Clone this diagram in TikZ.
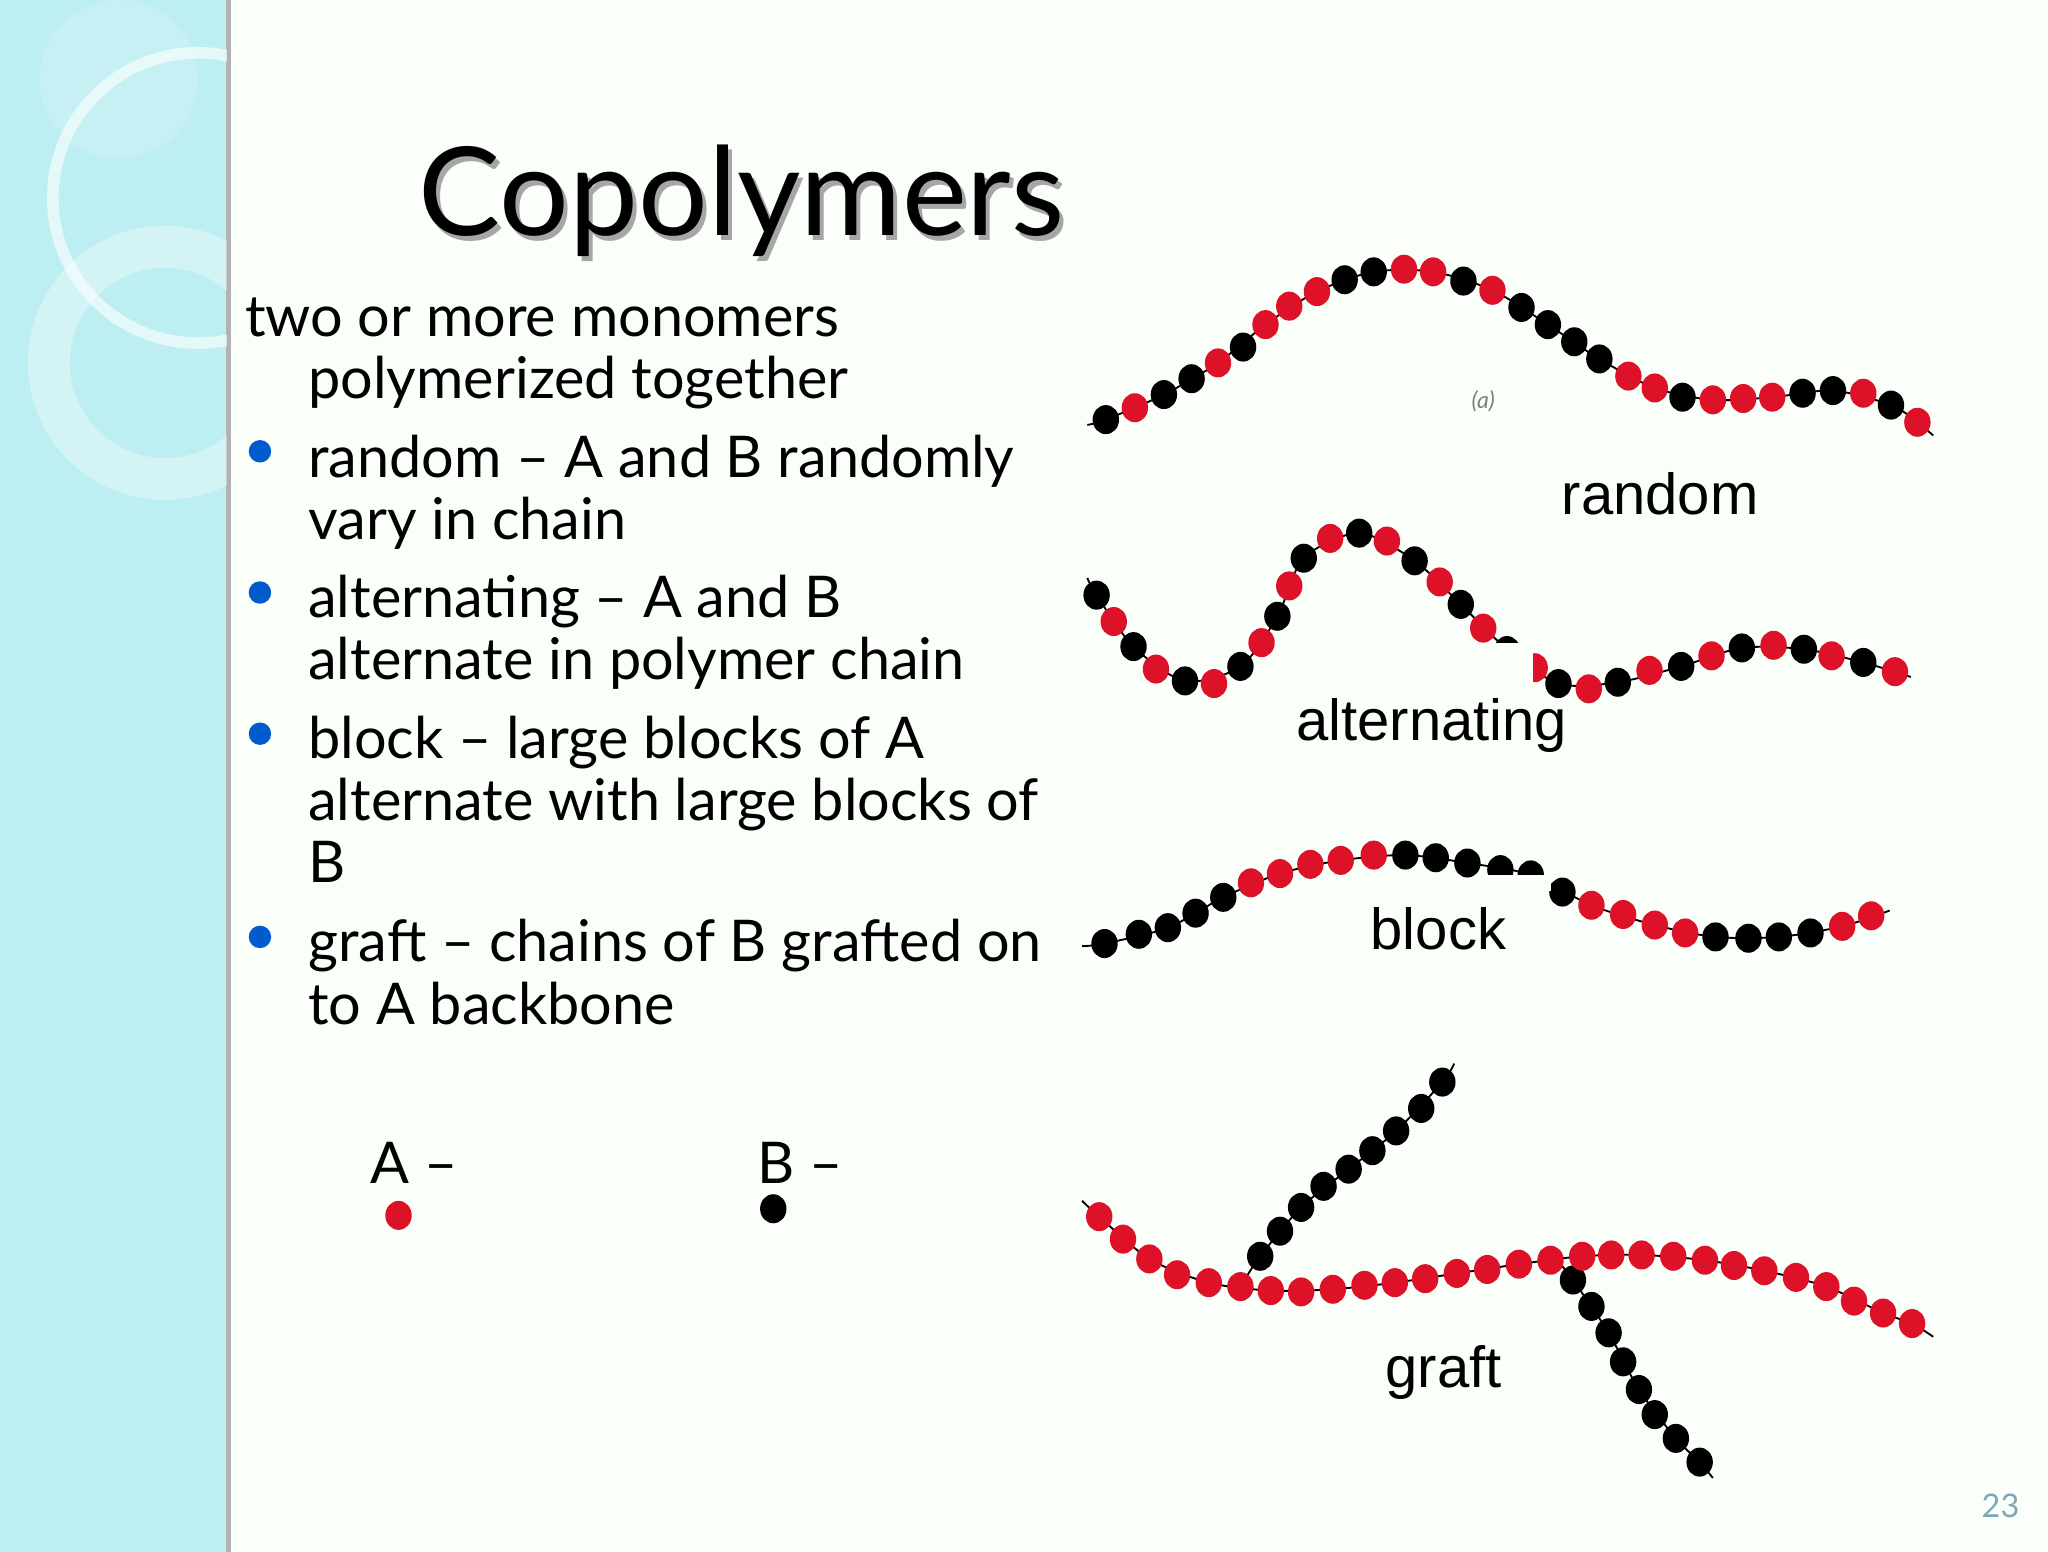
\documentclass[tikz,border=0pt]{standalone}
\usepackage{fontspec}
\setmainfont{Lato}
\newfontfamily\arialf{Liberation Sans}
\definecolor{bred}{HTML}{DD1128}
\definecolor{bandc}{HTML}{BDEEF1}
\definecolor{numc}{HTML}{7FA7B8}
\tikzset{body/.style={anchor=base west,inner sep=0,font=\fontsize{12.4pt}{14pt}\selectfont},
 lab/.style={font=\arialf\fontsize{12.5pt}{14pt}\selectfont,inner sep=0},
 bul/.style={circle,fill=blue!55!cyan!80!black,minimum size=0.17cm,inner sep=0}}
\newcommand{\beads}[1]{%
 \foreach \x/\y/\c in {#1}{\fill[\c] (\x,\y) ellipse [x radius=10,y radius=11];}}
\begin{document}
\begin{tikzpicture}[x=0.01cm,y=-0.01cm]
\useasboundingbox (0,0) rectangle (1552,1176);
\fill[white!98!green] (0,0) rectangle (1552,1176);
\fill[bandc] (0,0) rectangle (172,1176);
\draw[gray!60,line width=1.2pt] (173,0) -- (173,1176);
\begin{scope}
\clip (0,0) rectangle (172,1176);
\draw[white,opacity=0.6,line width=2.5pt] (150,150) circle (110);
\draw[white,opacity=0.35,line width=9pt] (125,275) circle (88);
\fill[white,opacity=0.15] (90,60) circle (60);
\end{scope}
% title
\node[font=\fontsize{26.5pt}{30pt}\selectfont,gray!70,inner sep=0] at (565,156) {Copolymers};
\node[font=\fontsize{26.5pt}{30pt}\selectfont,inner sep=0] (title) at (562,152) {Copolymers};
% body
\node[body] (t1) at (185,255) {two or more monomers};
\node[body] at (233,302) {polymerized together};
\node[bul] at (197,342) {};
\node[body] at (233,362) {random -- A and B randomly};
\node[body] at (233,409) {vary in chain};
\node[bul] at (197,449) {};
\node[body] at (233,468) {alternating -- A and B};
\node[body] at (233,515) {alternate in polymer chain};
\node[bul] at (197,556) {};
\node[body] at (233,575) {block -- large blocks of A};
\node[body] at (233,622) {alternate with large blocks of};
\node[body] at (233,669) {B};
\node[bul] at (197,710) {};
\node[body] at (233,729) {graft -- chains of B grafted on};
\node[body] at (233,776) {to A backbone};
\node[body] (la) at (280,897) {A --};
\node[body] (lb) at (573,897) {B --};
\fill[bred] (302,921) ellipse [x radius=10,y radius=11];
\fill[black] (586,916) ellipse [x radius=10,y radius=11];
% random
\draw[thin] plot[smooth] coordinates {(824,322)(838,318)(882,299)(923,275)(959,246)(998,221)(1041,206)(1086,206)(1131,220)(1173,246)(1212,272)(1254,294)(1298,303)(1343,301)(1389,296)(1433,307)(1453,320)(1465,330)};
\beads{838/318/black,860/309/bred,882/299/black,903/287/black,923/275/bred,942/263/black,959/246/bred,977/232/bred,998/221/bred,1019/212/black,1041/206/black,1064/204/bred,1086/206/bred,1109/213/black,1131/220/bred,1153/233/black,1173/246/black,1193/259/black,1212/272/black,1234/285/bred,1254/294/bred,1275/301/black,1298/303/bred,1321/302/bred,1343/301/bred,1366/298/black,1389/296/black,1412/298/bred,1433/307/black,1453/320/bred}
\node[font=\itshape\fontsize{5pt}{6pt}\selectfont,gray] at (1124,304) {(a)};
\node[lab] (lr) at (1258,374) {random};
% alternating
\draw[thin] plot[smooth] coordinates {(824,438)(831,451)(859,490)(898,516)(940,505)(968,467)(988,423)(1030,404)(1072,425)(1107,458)(1140,490)(1181,518)(1226,517)(1274,505)(1320,491)(1367,492)(1412,502)(1448,513)};
\beads{831/451/black,844/471/bred,859/490/black,876/507/bred,898/516/black,920/518/bred,940/505/black,956/487/bred,968/467/black,977/444/bred,988/423/black,1008/408/bred,1030/404/black,1051/410/bred,1072/425/black,1091/441/bred,1107/458/black,1124/476/bred,1142/493/black,1163/506/bred,1181/518/black,1204/522/bred,1226/517/black,1250/508/bred,1274/505/black,1297/497/bred,1320/491/black,1344/489/bred,1367/492/black,1388/497/bred,1412/502/black,1436/509/bred}
\fill[white!98!green] (1130,487) rectangle (1162,540);
\node[lab] (lalt) at (1085,550) {alternating};
% block
\draw[thin] plot[smooth] coordinates {(820,717)(837,715)(885,703)(927,680)(970,662)(1016,652)(1065,648)(1112,654)(1160,663)(1206,686)(1254,701)(1300,710)(1348,710)(1396,702)(1432,690)};
\beads{837/715/black,863/708/black,885/703/black,906/692/black,927/680/black,948/669/bred,970/662/bred,993/655/bred,1016/652/bred,1041/648/bred,1065/648/black,1088/650/black,1112/654/black,1137/659/black,1160/663/black,1184/676/black,1206/686/bred,1230/693/bred,1254/701/bred,1277/707/bred,1300/710/black,1325/711/black,1348/710/black,1372/707/black,1396/702/bred,1418/694/bred}
\fill[white!98!green] (1125,663) rectangle (1175,675);
\node[lab] (lbl) at (1090,704) {block};
% graft
\draw[thin] plot[smooth] coordinates {(940,975)(955,952)(986,915)(1022,886)(1058,857)(1093,820)(1102,806)};
\draw[thin] plot[smooth] coordinates {(1180,955)(1192,970)(1219,1010)(1242,1053)(1270,1090)(1288,1108)(1298,1120)};
\draw[thin] plot[smooth] coordinates {(820,910)(833,922)(871,954)(916,972)(963,978)(1010,977)(1057,972)(1104,965)(1151,958)(1199,952)(1244,951)(1292,955)(1337,963)(1384,975)(1427,995)(1449,1003)(1465,1013)};
\beads{955/952/black,970/933/black,986/915/black,1003/899/black,1022/886/black,1040/872/black,1058/857/black,1077/840/black,1093/820/black}
\beads{1192/970/black,1206/990/black,1219/1010/black,1230/1032/black,1242/1053/black,1254/1072/black,1270/1090/black,1288/1108/black}
\beads{833/922/bred,851/939/bred,871/954/bred,892/966/bred,916/972/bred,940/975/bred,963/978/bred,986/979/bred,1010/977/bred,1034/974/bred,1057/972/bred,1080/969/bred,1104/965/bred,1127/962/bred,1151/958/bred,1175/955/bred,1199/952/bred,1221/951/bred,1244/951/bred,1268/952/bred,1292/955/bred,1314/959/bred,1337/963/bred,1361/968/bred,1384/975/bred,1405/986/bred,1427/995/bred,1449/1003/bred}
\node[lab] (lg) at (1094,1040) {graft};
\node[font=\fontsize{7pt}{8pt}\selectfont,numc,inner sep=0] (pn) at (1516,1141) {23};
\end{tikzpicture}
\end{document}
